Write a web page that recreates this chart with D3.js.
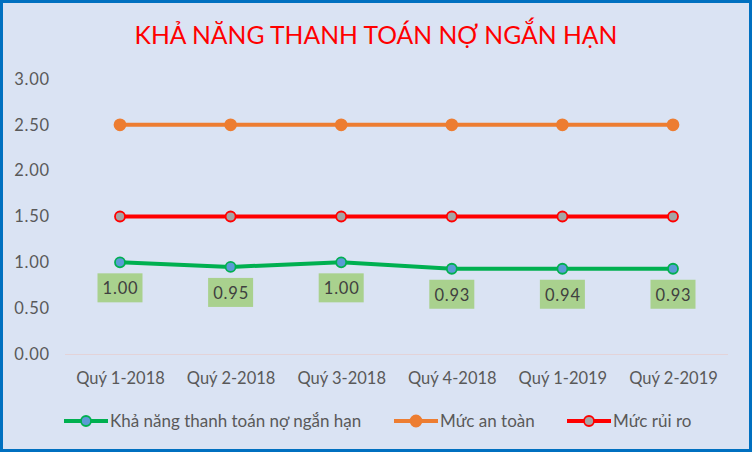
<!DOCTYPE html>
<html>
<head>
<meta charset="utf-8">
<script src="https://cdn.jsdelivr.net/npm/d3@7"></script>
<style>
  body { margin: 0; }
  svg { display: block; }
</style>
</head>
<body>
<div id="chart"></div>
<script>
var quarters = ["Quý 1-2018", "Quý 2-2018", "Quý 3-2018", "Quý 4-2018", "Quý 1-2019", "Quý 2-2019"];
var liquidity = [1.00, 0.95, 1.00, 0.93, 0.93, 0.93];
var liquidityLabels = ["1.00", "0.95", "1.00", "0.93", "0.94", "0.93"];
var safeLevel = [2.5, 2.5, 2.5, 2.5, 2.5, 2.5];
var riskLevel = [1.5, 1.5, 1.5, 1.5, 1.5, 1.5];
var yTicks = [0, 0.5, 1, 1.5, 2, 2.5, 3];

var width = 752;
var height = 452;
var font = "Lato, sans-serif";

var svg = d3.select("#chart").append("svg")
  .attr("width", width)
  .attr("height", height);

// background + border
svg.append("rect")
  .attr("x", 1.5).attr("y", 1.5)
  .attr("width", width - 3).attr("height", height - 3)
  .attr("fill", "#DAE3F3")
  .attr("stroke", "#0070C0")
  .attr("stroke-width", 3);

svg.append("text")
  .attr("x", width / 2)
  .attr("y", 44)
  .attr("text-anchor", "middle")
  .attr("fill", "#FF0000")
  .style("font-family", font)
  .style("font-size", "24.7px")
  .text("KHẢ NĂNG THANH TOÁN NỢ NGẮN HẠN");

var xScale = d3.scalePoint(quarters, [120, 673]);
var yScale = d3.scaleLinear([0, 3], [354, 79]);

// y axis labels
var yAxis = d3.axisLeft(yScale)
  .tickValues(yTicks)
  .tickFormat(d3.format(".2f"))
  .tickSize(0)
  .tickPadding(0);

var yg = svg.append("g")
  .attr("transform", "translate(50,0)")
  .call(yAxis);
yg.select(".domain").remove();
yg.selectAll("text")
  .attr("fill", "#595959")
  .style("font-family", font)
  .style("font-size", "16.5px")
  .style("letter-spacing", "0.8px");

// x axis
var xAxis = d3.axisBottom(xScale).tickSize(0);
var xg = svg.append("g")
  .attr("transform", "translate(0,354)")
  .call(xAxis);
xg.select(".domain")
  .attr("d", "M65,0.5H728")
  .attr("stroke", "#E3D3D8");
xg.selectAll("text")
  .attr("y", 30)
  .attr("dy", 0)
  .attr("fill", "#595959")
  .style("font-family", font)
  .style("font-size", "16.5px");

var series = [
  { name: "Khả năng thanh toán nợ ngắn hạn", values: liquidity, line: "#00B050", fill: "#5B9BD5", stroke: "#00B050", r: 5 },
  { name: "Mức an toàn", values: safeLevel, line: "#ED7D31", fill: "#ED7D31", stroke: "#ED7D31", r: 5.5 },
  { name: "Mức rủi ro", values: riskLevel, line: "#FF0000", fill: "#A5A5A5", stroke: "#FF0000", r: 5 }
];

var line = d3.line()
  .x(function (d, i) { return xScale(quarters[i]); })
  .y(function (d) { return yScale(d); });

series.slice().reverse().forEach(function (s) {
  svg.append("path")
    .datum(s.values)
    .attr("d", line)
    .attr("fill", "none")
    .attr("stroke", s.line)
    .attr("stroke-width", 4)
    .attr("stroke-linejoin", "round");

  svg.append("g")
    .selectAll("circle")
    .data(s.values)
    .join("circle")
    .attr("cx", function (d, i) { return xScale(quarters[i]); })
    .attr("cy", function (d) { return yScale(d); })
    .attr("r", s.r)
    .attr("fill", s.fill)
    .attr("stroke", s.stroke)
    .attr("stroke-width", 1.8);
});

// data labels
var labels = svg.append("g")
  .selectAll("g")
  .data(liquidity)
  .join("g")
  .attr("transform", function (d, i) {
    return "translate(" + xScale(quarters[i]) + "," + (yScale(d) + 11) + ")";
  });

labels.append("rect")
  .attr("x", -22.5)
  .attr("y", 0)
  .attr("width", 45)
  .attr("height", 29)
  .attr("fill", "#A9D18E");

labels.append("text")
  .attr("x", 0.5)
  .attr("y", 21)
  .attr("text-anchor", "middle")
  .attr("fill", "#404040")
  .style("font-family", font)
  .style("font-size", "16.5px")
  .style("letter-spacing", "0.8px")
  .text(function (d, i) { return liquidityLabels[i]; });

// legend
var legendX = [64, 394, 567];
var legend = svg.append("g")
  .selectAll("g")
  .data(series)
  .join("g")
  .attr("transform", function (d, i) { return "translate(" + legendX[i] + ",421)"; });

legend.append("line")
  .attr("x1", 0).attr("x2", 44)
  .attr("stroke", function (d) { return d.line; })
  .attr("stroke-width", 4);

legend.append("circle")
  .attr("cx", 22)
  .attr("r", function (d) { return d.r; })
  .attr("fill", function (d) { return d.fill; })
  .attr("stroke", function (d) { return d.stroke; })
  .attr("stroke-width", 1.8);

legend.append("text")
  .attr("x", 46)
  .attr("y", 6)
  .attr("fill", "#595959")
  .style("font-family", font)
  .style("font-size", "17px")
  .text(function (d) { return d.name; });
</script>
</body>
</html>
